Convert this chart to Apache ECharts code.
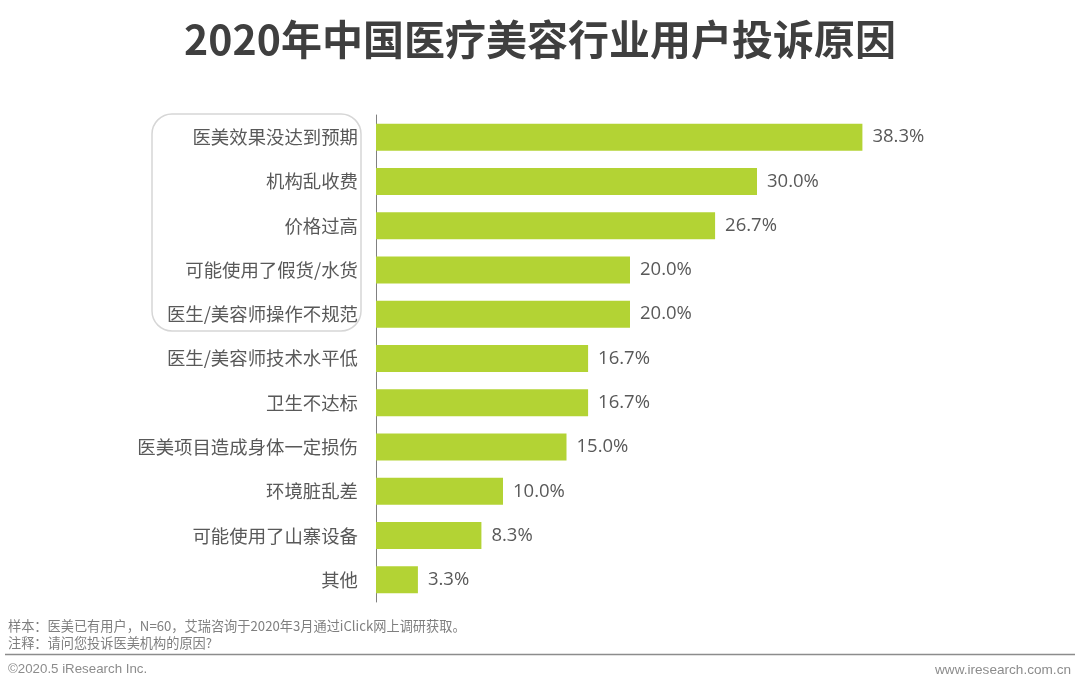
<!DOCTYPE html>
<html><head><meta charset="utf-8">
<script src="https://cdn.jsdelivr.net/npm/echarts@6/dist/echarts.min.js"></script>
<style>html,body{margin:0;padding:0;background:#fff}#c{width:1080px;height:689px}</style>
</head><body><div id="c"></div>
<script>
const title = '2020年中国医疗美容行业用户投诉原因';
const categories = ['医美效果没达到预期','机构乱收费','价格过高','可能使用了假货/水货','医生/美容师操作不规范','医生/美容师技术水平低','卫生不达标','医美项目造成身体一定损伤','环境脏乱差','可能使用了山寨设备','其他'];
const values = [38.3, 30.0, 26.7, 20.0, 20.0, 16.7, 16.7, 15.0, 10.0, 8.3, 3.3];
const notes = ['样本：医美已有用户，N=60，艾瑞咨询于2020年3月通过iClick网上调研获取。','注释：请问您投诉医美机构的原因?'];
const copyright = '©2020.5 iResearch Inc.';
const website = 'www.iresearch.com.cn';

const chart = echarts.init(document.getElementById('c'));
const cjk = '"Noto Sans CJK SC", "Open Sans", sans-serif';
chart.setOption({
  animation:false,
  title:{text:title,left:'center',top:14,textStyle:{fontFamily:'"Noto Sans CJK SC"',fontWeight:'bold',fontSize:41,color:'#3f3f3f'}},
  grid:{left:376,top:115,width:635,height:487,containLabel:false},
  xAxis:{type:'value',min:0,max:50,show:false},
  yAxis:{type:'category',data:categories,inverse:true,
    axisLine:{show:true,lineStyle:{color:'#808080',width:1}},
    axisTick:{show:false},
    axisLabel:{margin:18,fontSize:18.4,color:'#595959',fontFamily:cjk}},
  series:[{type:'bar',data:values,barWidth:27,itemStyle:{color:'#b3d334'},
    label:{show:true,position:'right',distance:10,fontSize:18.5,color:'#595959',fontFamily:'"Open Sans", sans-serif',
      formatter:p=>p.value.toFixed(1)+'%'}}],
  graphic:[
    {type:'rect',shape:{x:152,y:114,width:209,height:217,r:20},style:{fill:'none',stroke:'#d6d6d6',lineWidth:1.5}},
    {type:'text',left:8,top:619,style:{text:notes[0],fontSize:13.2,fill:'#7f7f7f',fontFamily:cjk}},
    {type:'text',left:8,top:636,style:{text:notes[1],fontSize:13.2,fill:'#7f7f7f',fontFamily:cjk}},
    {type:'line',shape:{x1:5,y1:654.5,x2:1075,y2:654.5},style:{stroke:'#8c8c8c',lineWidth:1.5}},
    {type:'text',left:8,top:663,style:{text:copyright,fontSize:13.3,fill:'#8c8c8c',fontFamily:'"Liberation Sans", Arial, sans-serif'}},
    {type:'text',right:9,top:663,style:{text:website,fontSize:13.6,fill:'#8c8c8c',fontFamily:'"Liberation Sans", Arial, sans-serif'}}
  ]
});
</script></body></html>
